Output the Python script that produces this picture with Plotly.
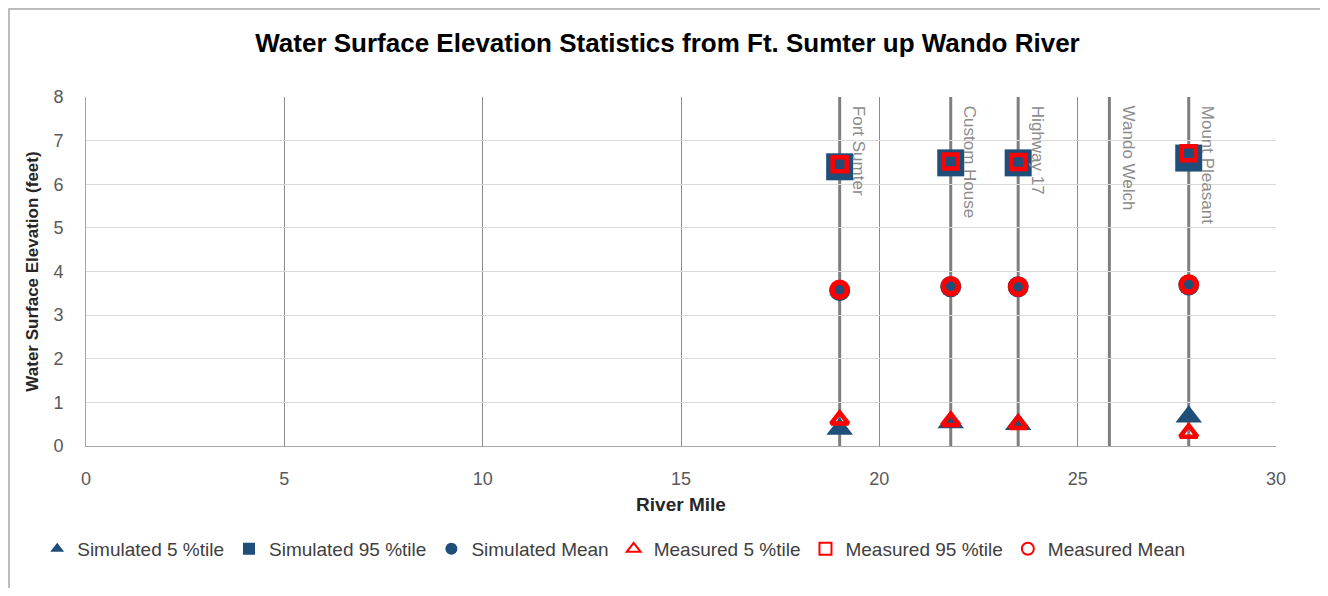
import plotly.graph_objects as go

# estacoes ao longo do rio (milha)
estacoes = ["Fort Sumter", "Custom House", "Highway 17", "Wando Welch", "Mount Pleasant"]
milha_estacoes = [19.0, 21.8, 23.5, 25.8, 27.8]

# pontos com dados (feet)
milha = [19.0, 21.8, 23.5, 27.8]
sim_p5 = [0.39, 0.54, 0.50, 0.67]
sim_p95 = [6.40, 6.49, 6.49, 6.60]
sim_media = [3.56, 3.65, 3.65, 3.69]
med_p5 = [0.60, 0.57, 0.50, 0.30]
med_p95 = [6.46, 6.52, 6.51, 6.71]
med_media = [3.58, 3.66, 3.65, 3.70]

azul = "#1F4E79"
vermelho = "#FF0000"
fonte = "Liberation Sans, Arial, sans-serif"

fig = go.Figure()

series = [
    ("Simulated 5 %tile", sim_p5, "triangle-up", 23, azul, 0),
    ("Simulated 95 %tile", sim_p95, "square", 27, azul, 0),
    ("Simulated Mean", sim_media, "circle", 21, azul, 0),
    ("Measured 5 %tile", med_p5, "triangle-up-open", 15, vermelho, 4.5),
    ("Measured 95 %tile", med_p95, "square-open", 14, vermelho, 4.5),
    ("Measured Mean", med_media, "circle-open", 15, vermelho, 5.5),
]
for nome, ys, simbolo, tam, cor, lw in series:
    fig.add_trace(go.Scatter(
        x=milha, y=ys, mode="markers", name=nome,
        marker=dict(symbol=simbolo, size=tam, color=cor, line=dict(color=cor, width=lw)),
    ))

# linhas das estacoes e rotulos
for nome, xm in zip(estacoes, milha_estacoes):
    fig.add_shape(type="line", xref="x", yref="y", x0=xm, x1=xm, y0=0, y1=8,
                  line=dict(color="#7F7F7F", width=3), layer="below")
    fig.add_annotation(x=xm, y=8, xref="x", yref="y", text=nome, showarrow=False,
                       textangle=90, xanchor="left", yanchor="top", xshift=8, yshift=-7,
                       font=dict(family=fonte, size=17, color="#8C8C8C"))

# borda da area do grafico
fig.add_shape(type="rect", xref="paper", yref="paper", x0=-0.0647, x1=1.042, y0=-0.6, y1=1.252,
              line=dict(color="#A6A6A6", width=1.5))

fig.update_layout(
    width=1319, height=580,
    margin=dict(l=78, r=51, t=89, b=142),
    paper_bgcolor="white", plot_bgcolor="white",
    font=dict(family=fonte, size=18, color="#595959"),
    title=dict(text="<b>Water Surface Elevation Statistics from Ft. Sumter up Wando River</b>",
               x=0.5, xref="container", xanchor="center", y=1 - 35 / 580, yref="container",
               yanchor="middle",
               font=dict(family=fonte, size=26, color="black")),
    showlegend=True,
    legend=dict(orientation="h", x=-0.041, xanchor="left", y=-0.295, yanchor="middle",
                font=dict(family=fonte, size=19, color="#404040"),
                tracegroupgap=0, itemsizing="constant", bgcolor="rgba(0,0,0,0)"),
)
fig.update_xaxes(range=[0, 30], dtick=5, showgrid=True, gridcolor="#8C8C8C", gridwidth=1,
                 showline=True, linecolor="#A6A6A6", zeroline=False, ticks="",
                 ticklabelstandoff=16,
                 tickfont=dict(family=fonte, size=18, color="#595959"),
                 title=dict(text="<b>River Mile</b>", standoff=10,
                            font=dict(family=fonte, size=19, color="#262626")))
fig.update_yaxes(range=[0, 8], dtick=1, showgrid=True, gridcolor="#D9D9D9", gridwidth=1,
                 showline=True, linecolor="#A6A6A6", zeroline=False, ticks="",
                 ticklabelstandoff=18,
                 tickfont=dict(family=fonte, size=18, color="#595959"),
                 title=dict(text="<b>Water Surface Elevation (feet)</b>", standoff=10,
                            font=dict(family=fonte, size=17, color="#262626")))

fig.write_html("out.html")
